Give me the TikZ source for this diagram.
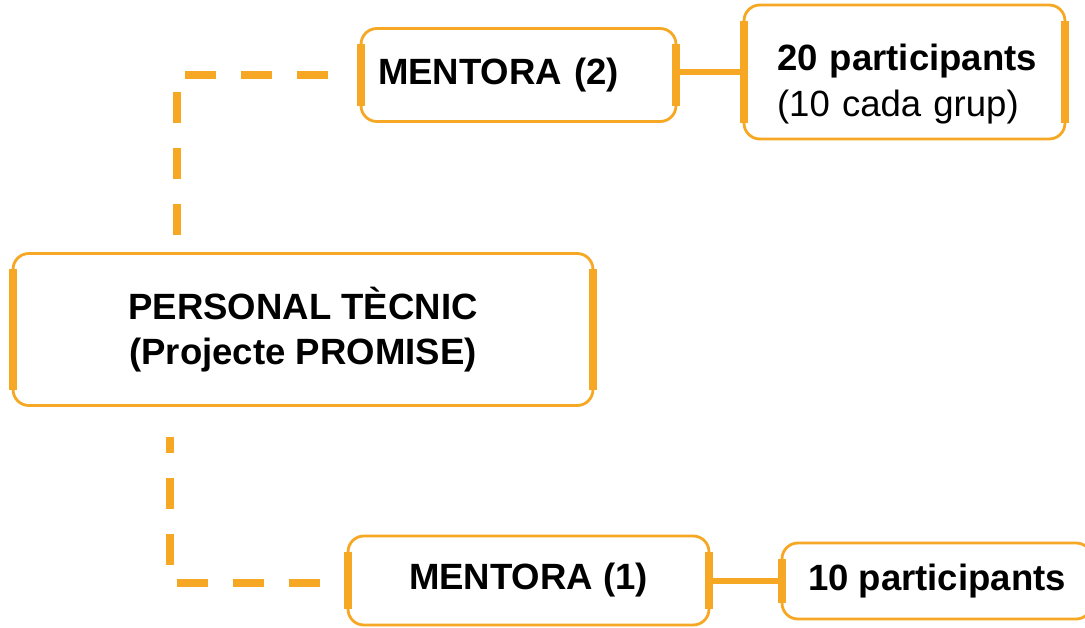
\documentclass[tikz,border=0pt]{standalone}
\usepackage{fontspec}
\setmainfont{Liberation Sans}
\usetikzlibrary{positioning}

\definecolor{promise}{RGB}{246,168,36}

\tikzset{
  box/.style={draw=promise, line width=1.6pt, rounded corners=9pt, outer sep=0pt,
    inner sep=0pt, font=\fontsize{20.8}{26}\selectfont\bfseries, align=center},
  side/.style={draw=promise, line width=4.5pt},
  dashlink/.style={draw=promise, line width=4.2pt, dash pattern=on 0.62cm off 0.5cm},
  link/.style={draw=promise, line width=3.4pt}
}

\begin{document}
\begin{tikzpicture}[x=0.02cm, y=-0.02cm]
        \useasboundingbox (0,0) rectangle (1085,628);

        % Technical staff block
        \node[box, minimum width=11.6cm, minimum height=3.04cm] (pt) at (303,329.5) {PERSONAL TÈCNIC\\(Projecte PROMISE)};

        % Mentor blocks
        \node[box, minimum width=6.3cm, minimum height=1.86cm, text width=5.62cm, align=left] (m2) at (518.5,75) {MENTORA (2)};
        \node[box, minimum width=7.22cm, minimum height=1.78cm] (m1) at (528.5,580.5) {MENTORA (1)};

        % Participant blocks
        \node[box, minimum width=6.42cm, minimum height=2.68cm, text width=5.1cm, align=left] (p20) at (904.5,72) {\rule{0pt}{28.5pt}\mbox{20 participants}\\\mdseries\mbox{(10 cada grup)}};
        \node[box, minimum width=6.2cm, minimum height=1.52cm] (p10) at (937,581) {10 participants};

        % Thick sides of every block
        \foreach \b in {pt, m2, m1, p20, p10}
            \draw[side] ([yshift=-9pt]\b.north west) -- ([yshift=9pt]\b.south west)
                        ([yshift=-9pt]\b.north east) -- ([yshift=9pt]\b.south east);

        % Dashed links to the mentors
        \draw[dashlink] ([xshift=3.28cm, yshift=0.37cm]pt.north west) |- ([xshift=-0.58cm]m2.west);
        \draw[dashlink, dash phase=0.3cm] ([xshift=3.14cm, yshift=-0.63cm]pt.south west) |- ([xshift=-0.56cm, yshift=-0.05cm]m1.west);

        % Mentors to their participants
        \draw[link] (p20.west -| m2.east) -- (p20.west);
        \draw[link] (p10.west -| m1.east) -- (p10.west);
    \end{tikzpicture}
\end{document}
